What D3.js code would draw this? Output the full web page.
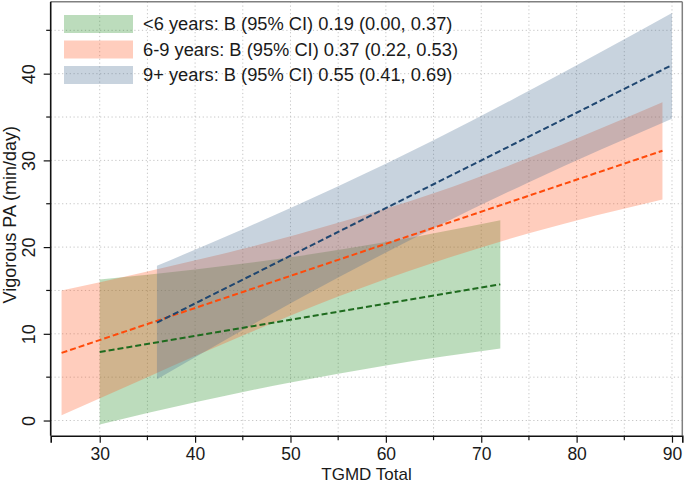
<!DOCTYPE html>
<html><head><meta charset="utf-8">
<script src="https://cdn.jsdelivr.net/npm/d3@7"></script>
<style>html,body{margin:0;padding:0;background:#fff}svg{display:block}text{font-family:"Liberation Sans",Arial,sans-serif;fill:#1a1a1a}</style>
</head><body><svg id="c" width="685" height="484"></svg>
<script>
// ---- data ----
const legendLabels = [
  "<6 years: B (95% CI) 0.19 (0.00, 0.37)",
  "6-9 years: B (95% CI) 0.37 (0.22, 0.53)",
  "9+ years: B (95% CI) 0.55 (0.41, 0.69)"
];
const xYoung = [30, 40, 50, 60, 72];
const fitYoung = [7.9, 9.76, 11.61, 13.47, 15.7];
const upYoung = [16.25, 17.42, 18.83, 20.58, 23.1];
const loYoung = [-0.45, 2.1, 4.39, 6.36, 8.3];

const xMid = [26, 35, 45, 55, 65, 75, 89];
const fitMid = [7.8, 11.13, 14.83, 18.53, 22.23, 25.93, 31.11];
const upMid = [15.0, 17.2, 19.8, 22.8, 26.2, 30.3, 36.7];
const loMid = [0.6, 5.0, 9.8, 14.3, 18.2, 21.6, 25.5];

const xOld = [36, 45, 55, 65, 75, 90];
const fitOld = [11.3, 16.25, 21.75, 27.25, 32.75, 41.0];
const upOld = [17.85, 22.07, 27.02, 32.32, 38.02, 47.0];
const loOld = [4.75, 10.43, 16.48, 22.18, 27.48, 34.8];

const xTicks = [30, 40, 50, 60, 70, 80, 90];
const yTicks = [0, 10, 20, 30, 40];
const xTitle = "TGMD Total";
const yTitle = "Vigorous PA (min/day)";

// ---- drawing ----
const svg = d3.select("#c");
const L = 50.7, R = 682.3, T = 1.7, B = 435.7;
const x = d3.scaleLinear().domain([24.86, 91.08]).range([L, R]);
const y = d3.scaleLinear().domain([-1.75, 48.3]).range([B, T]);

const series = [
  {xs: xYoung, fit: fitYoung, up: upYoung, lo: loYoung, fill: "rgb(34,139,34)", line: "#1e6b1e"},
  {xs: xMid, fit: fitMid, up: upMid, lo: loMid, fill: "rgb(255,90,35)", line: "#ff4a0a"},
  {xs: xOld, fit: fitOld, up: upOld, lo: loOld, fill: "rgb(72,110,145)", line: "#1f4670"}
];
const alpha = 0.3;

// grid
const g = svg.append("g");
g.selectAll("line.gx").data(d3.range(30, 91, 5)).join("line")
  .attr("x1", d => x(d)).attr("x2", d => x(d)).attr("y1", T).attr("y2", B)
  .attr("stroke", "#c4c4c4").attr("stroke-width", 1).attr("stroke-dasharray", "1.2,2.6");
g.selectAll("line.gy").data(d3.range(0, 46, 5)).join("line")
  .attr("y1", d => y(d)).attr("y2", d => y(d)).attr("x1", L).attr("x2", R)
  .attr("stroke", "#c4c4c4").attr("stroke-width", 1).attr("stroke-dasharray", "1.2,2.6");

// bands
const area = d3.area().x(d => x(d.x)).y0(d => y(d.lo)).y1(d => y(d.up)).curve(d3.curveMonotoneX);
const line = d3.line().x(d => x(d.x)).y(d => y(d.f)).curve(d3.curveMonotoneX);
series.forEach(s => {
  const pts = s.xs.map((v, i) => ({x: v, lo: s.lo[i], up: s.up[i], f: s.fit[i]}));
  svg.append("path").attr("d", area(pts)).attr("fill", s.fill).attr("fill-opacity", alpha);
});
series.forEach(s => {
  const pts = s.xs.map((v, i) => ({x: v, f: s.fit[i]}));
  svg.append("path").attr("d", line(pts)).attr("fill", "none").attr("stroke", s.line)
    .attr("stroke-width", 2).attr("stroke-dasharray", "6,3");
});

// frame
svg.append("line").attr("x1", L).attr("x2", R).attr("y1", T).attr("y2", T).attr("stroke", "#808080").attr("stroke-width", 1.5);
svg.append("line").attr("x1", R).attr("x2", R).attr("y1", T).attr("y2", B).attr("stroke", "#808080").attr("stroke-width", 1.5);

// axes
const xAxis = svg.append("g").attr("transform", `translate(0,${B})`)
  .call(d3.axisBottom(x).tickValues(xTicks).tickSize(7).tickPadding(5).tickFormat(d3.format("d")));
xAxis.select(".domain").attr("stroke", "#111").attr("stroke-width", 1.6);
xAxis.selectAll(".tick line").attr("stroke", "#111").attr("stroke-width", 1.2);
xAxis.selectAll("text").attr("font-size", 17.5).attr("fill", "#1a1a1a").attr("font-family", '"Liberation Sans",Arial,sans-serif');
svg.append("g").selectAll("line").data(d3.range(35, 90, 10)).join("line")
  .attr("x1", d => x(d)).attr("x2", d => x(d)).attr("y1", B).attr("y2", B + 4.5)
  .attr("stroke", "#111").attr("stroke-width", 1.2);

const yAxis = svg.append("g").attr("transform", `translate(${L},0)`)
  .call(d3.axisLeft(y).tickValues(yTicks).tickSize(7).tickFormat(d3.format("d")));
yAxis.select(".domain").remove();
svg.append("line").attr("x1", L).attr("x2", L).attr("y1", T).attr("y2", B).attr("stroke", "#111").attr("stroke-width", 1.6);
yAxis.selectAll(".tick line").attr("stroke", "#111").attr("stroke-width", 1.2);
yAxis.selectAll("text").remove();
yAxis.selectAll(".tick").append("text")
  .attr("transform", "translate(-15.5,0) rotate(-90)")
  .attr("text-anchor", "middle").attr("font-size", 18).attr("fill", "#1a1a1a")
  .attr("font-family", '"Liberation Sans",Arial,sans-serif')
  .text(d => d);
svg.append("g").selectAll("line").data(d3.range(5, 46, 10)).join("line")
  .attr("x1", L - 4.5).attr("x2", L).attr("y1", d => y(d)).attr("y2", d => y(d))
  .attr("stroke", "#111").attr("stroke-width", 1.2);

// titles
svg.append("text").attr("x", (L + R) / 2).attr("y", 480).attr("text-anchor", "middle")
  .attr("font-size", 17).text(xTitle);
svg.append("text").attr("transform", `translate(16,${(T + B) / 2 - 4}) rotate(-90)`)
  .attr("text-anchor", "middle").attr("font-size", 18).text(yTitle);

// legend
const lg = svg.append("g");
const rowY = [24, 49.5, 75];
series.forEach((s, i) => {
  lg.append("rect").attr("x", 64).attr("y", rowY[i] - 9).attr("width", 69).attr("height", 18)
    .attr("fill", s.fill).attr("fill-opacity", alpha);
  lg.append("text").attr("x", 143).attr("y", rowY[i] + 6.3).attr("font-size", 18.3).text(legendLabels[i]);
});
</script></body></html>
